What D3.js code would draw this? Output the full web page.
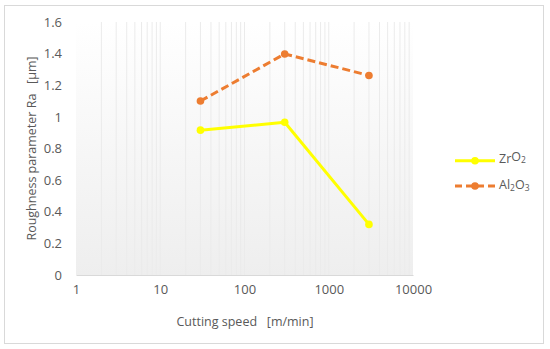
<!DOCTYPE html>
<html><head><meta charset="utf-8">
<script src="https://cdn.jsdelivr.net/npm/d3@7"></script>
<style>body{margin:0;background:#fff}svg{display:block}text{font-family:"Open Sans","Liberation Sans",sans-serif;fill:#595959}</style>
</head><body>
<script>
const speeds = [30, 300, 3000];
const zro2 = [0.916, 0.966, 0.32];
const al2o3 = [1.10, 1.398, 1.262];
const xTicks = [1, 10, 100, 1000, 10000];
const yTicks = [0, 0.2, 0.4, 0.6, 0.8, 1, 1.2, 1.4, 1.6];
const seriesNames = [["Zr","O","2"], ["Al","2","O","3"]];

const W = 550, H = 349;
const svg = d3.select("body").append("svg").attr("width", W).attr("height", H);
const m = {l: 76, r: 413, t: 22, b: 275};
const x = d3.scaleLog().domain([1, 10000]).range([m.l, m.r]);
const y = d3.scaleLinear().domain([0, 1.6]).range([m.b, m.t]);

svg.append("rect").attr("x", 4.5).attr("y", 5.5).attr("width", 539).attr("height", 338)
  .attr("fill", "#fff").attr("stroke", "#d9d9d9");

const defs = svg.append("defs");
const g = defs.append("linearGradient").attr("id", "bg").attr("x1", 0).attr("y1", 0).attr("x2", 0).attr("y2", 1);
g.append("stop").attr("offset", "0%").attr("stop-color", "#ffffff");
g.append("stop").attr("offset", "100%").attr("stop-color", "#eeeeee");
svg.append("rect").attr("x", m.l).attr("y", m.t).attr("width", m.r - m.l).attr("height", m.b - m.t).attr("fill", "url(#bg)");

// vertical gridlines (major+minor)
const grid = [];
for (let d = 1; d < 10000; d *= 10) for (let k = 1; k <= 9; k++) { const v = d * k; if (v > 1) grid.push(v); }
svg.append("g").selectAll("line").data(grid).join("line")
  .attr("x1", d => x(d)).attr("x2", d => x(d)).attr("y1", m.t).attr("y2", m.b)
  .attr("stroke", "#ebebeb").attr("stroke-width", 1);

// x axis
const xa = svg.append("g").attr("transform", `translate(0,${m.b})`)
  .call(d3.axisBottom(x).tickValues(xTicks).tickFormat(d3.format("d")).tickSize(0).tickPadding(10));
xa.select(".domain").attr("stroke", "#d9d9d9").attr("stroke-width", 1);
xa.selectAll("text").attr("font-size", 13).style("fill", "#595959").attr("font-family", "Open Sans, Liberation Sans, sans-serif");

const ya = svg.append("g").attr("transform", `translate(${m.l},0)`)
  .call(d3.axisLeft(y).tickValues(yTicks).tickFormat(d => d3.format("~g")(d)).tickSize(0).tickPadding(14));
ya.select(".domain").remove();
ya.selectAll("text").attr("font-size", 13).style("fill", "#595959").attr("font-family", "Open Sans, Liberation Sans, sans-serif");

svg.append("text").attr("x", 245).attr("y", 326).attr("text-anchor", "middle").attr("font-size", 12.5)
  .attr("xml:space", "preserve").text("Cutting speed   [m/min]");
svg.append("text").attr("transform", `translate(36,${(m.t + m.b) / 2}) rotate(-90)`).attr("text-anchor", "middle")
  .attr("font-size", 12.5).attr("xml:space", "preserve").text("Roughness parameter Ra   [µm]");

const line = d3.line().x(d => x(d[0])).y(d => y(d[1]));
const series = [
  {vals: zro2, color: "#FFFF00", dash: null},
  {vals: al2o3, color: "#ED7D31", dash: "8,4"}
];
series.forEach(s => {
  const pts = speeds.map((v, i) => [v, s.vals[i]]);
  svg.append("path").datum(pts).attr("d", line).attr("fill", "none").attr("stroke", s.color)
    .attr("stroke-width", 3).attr("stroke-dasharray", s.dash).attr("stroke-linejoin", "round");
  svg.append("g").selectAll("circle").data(pts).join("circle")
    .attr("cx", d => x(d[0])).attr("cy", d => y(d[1])).attr("r", 3.8).attr("fill", s.color);
});

// legend
const lg = svg.append("g");
[160.7, 186].forEach((ly, i) => {
  const s = series[i];
  lg.append("line").attr("x1", 455).attr("x2", 495).attr("y1", ly).attr("y2", ly)
    .attr("stroke", s.color).attr("stroke-width", 3).attr("stroke-dasharray", s.dash ? "7,4" : null);
  lg.append("circle").attr("cx", 475).attr("cy", ly).attr("r", 3.8).attr("fill", s.color);
  const t = lg.append("text").attr("x", 499).attr("y", ly + 4.5).attr("font-size", 12.5);
  const parts = seriesNames[i];
  parts.forEach(p => {
    if (/^\d$/.test(p)) t.append("tspan").attr("font-size", 8.5).attr("dy", 2).text(p);
    else t.append("tspan").attr("dy", t.selectAll("tspan").size() ? -2 : 0).text(p);
  });
});
</script>
</body></html>
